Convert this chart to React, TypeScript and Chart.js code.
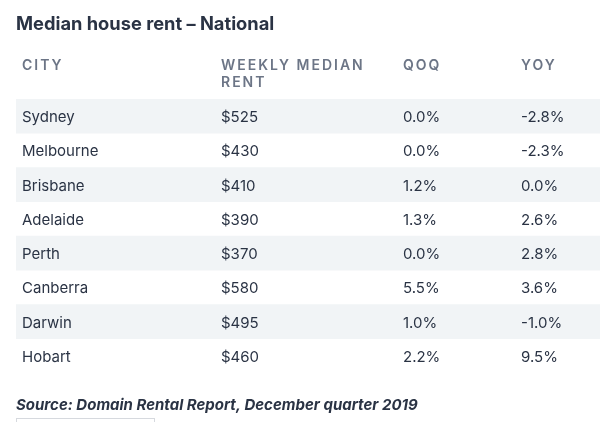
import React, { useEffect, useRef } from "react";
import { Chart, registerables } from "chart.js";

Chart.register(...registerables);

const title = "Median house rent – National";
const source = "Source: Domain Rental Report, December quarter 2019";
const headers = [["CITY"], ["WEEKLY MEDIAN", "RENT"], ["QOQ"], ["YOY"]];
const cities = ["Sydney", "Melbourne", "Brisbane", "Adelaide", "Perth", "Canberra", "Darwin", "Hobart"];
const weeklyRent = [525, 430, 410, 390, 370, 580, 495, 460];
const qoq = [0.0, 0.0, 1.2, 1.3, 0.0, 5.5, 1.0, 2.2];
const yoy = [-2.8, -2.3, 0.0, 2.6, 2.8, 3.6, -1.0, 9.5];

const TABLE_WIDTH = 584;
const COLUMN_X = [6, 205, 387, 505];
const FONT = "Inter, 'Open Sans', sans-serif";
const TEXT = "#2a3344";
const HEAD = "#6c7586";
const STRIPE = "#f1f4f6";

function cellText(col: number, i: number): string {
  if (col === 0) return cities[i];
  if (col === 1) return "$" + weeklyRent[i];
  if (col === 2) return qoq[i].toFixed(1) + "%";
  return yoy[i].toFixed(1) + "%";
}

const tablePlugin = {
  id: "tableText",
  afterDatasetsDraw(chart: any) {
    const ctx = chart.ctx as CanvasRenderingContext2D;
    const xs = chart.scales.x;
    const ys = chart.scales.y;
    ctx.save();
    ctx.textBaseline = "alphabetic";
    ctx.textAlign = "left";
    // title
    ctx.fillStyle = TEXT;
    ctx.font = "bold 18.3px " + FONT;
    ctx.fillText(title, xs.getPixelForValue(0), 30);
    // headers
    ctx.fillStyle = HEAD;
    ctx.font = "600 14px " + FONT;
    (ctx as any).letterSpacing = "2px";
    headers.forEach((lines, c) => {
      lines.forEach((line, k) => {
        ctx.fillText(line, xs.getPixelForValue(COLUMN_X[c]), 70 + k * 17.3);
      });
    });
    (ctx as any).letterSpacing = "0px";
    // cells
    ctx.fillStyle = TEXT;
    ctx.font = "15px " + FONT;
    cities.forEach((_, i) => {
      const y = ys.getPixelForValue(i) + 6;
      for (let c = 0; c < 4; c++) {
        ctx.fillText(cellText(c, i), xs.getPixelForValue(COLUMN_X[c]), y);
      }
    });
    // source
    ctx.font = "italic bold 15px " + FONT;
    ctx.fillText(source, xs.getPixelForValue(0), 410);
    // bottom box edge
    ctx.strokeStyle = "#d6d9de";
    ctx.lineWidth = 1;
    ctx.strokeRect(16.5, 418.5, 138, 12);
    ctx.restore();
  },
};

export default function App() {
  const ref = useRef<HTMLCanvasElement | null>(null);
  useEffect(() => {
    document.body.style.margin = "0";
    document.body.style.background = "#ffffff";
    const stripes = cities.map((_, i) => (i % 2 === 0 ? [0, TABLE_WIDTH] : null));
    const chart = new Chart(ref.current as HTMLCanvasElement, {
      type: "bar",
      data: {
        labels: cities,
        datasets: [
          {
            label: "rows",
            data: stripes as any,
            backgroundColor: STRIPE,
            borderWidth: 0,
            barPercentage: 1,
            categoryPercentage: 1,
          },
        ],
      },
      options: {
        indexAxis: "y",
        animation: false,
        responsive: false,
        maintainAspectRatio: false,
        layout: { padding: { left: 16, right: 0, top: 99, bottom: 49 } },
        scales: {
          x: { type: "linear", min: 0, max: TABLE_WIDTH, display: false },
          y: { type: "category", display: false, offset: true },
        },
        plugins: {
          legend: { display: false },
          title: { display: false },
          tooltip: { enabled: false },
        },
      },
      plugins: [tablePlugin],
    });
    return () => chart.destroy();
  }, []);
  return (
    <div style={{ position: "absolute", left: 0, top: 0, width: 600, height: 422 }}>
      <canvas ref={ref} width={600} height={422} style={{ display: "block" }} />
    </div>
  );
}
